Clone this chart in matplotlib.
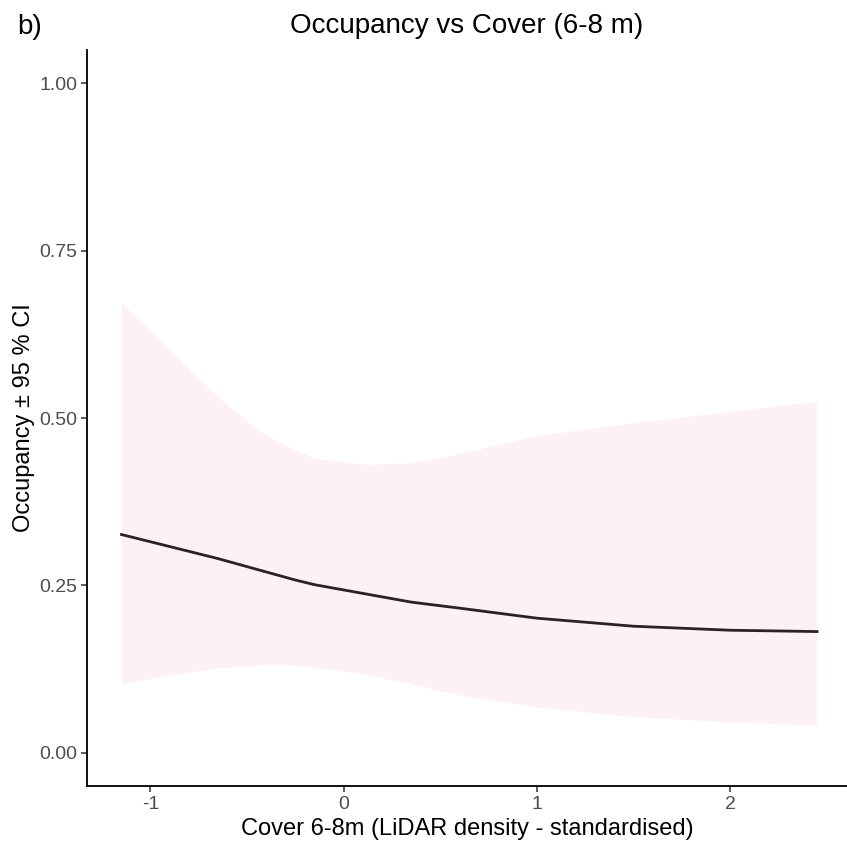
import numpy as np
import matplotlib.pyplot as plt

# values
cover = [-1.15, -0.90, -0.65, -0.50, -0.40, -0.25, -0.15, 0.10, 0.35, 0.60, 1.00, 1.50, 2.00, 2.45]
occ_mean = [0.326, 0.308, 0.290, 0.278, 0.270, 0.258, 0.251, 0.238, 0.225, 0.216, 0.201, 0.189, 0.183, 0.181]
occ_upper = [0.672, 0.601, 0.532, 0.495, 0.474, 0.452, 0.440, 0.431, 0.433, 0.447, 0.474, 0.493, 0.510, 0.525]
occ_lower = [0.103, 0.116, 0.127, 0.130, 0.132, 0.131, 0.128, 0.118, 0.103, 0.086, 0.068, 0.054, 0.046, 0.041]
yticks = [0.00, 0.25, 0.50, 0.75, 1.00]
xticks = [-1, 0, 1, 2]

plt.rcParams['font.family'] = ['Liberation Sans', 'DejaVu Sans']

fig = plt.figure(figsize=(8.47, 8.51), dpi=100)
ax = fig.add_axes([0.1024, 0.0762, 0.8976, 0.865])

ax.fill_between(cover, occ_lower, occ_upper, color='#FDF1F4', lw=0)
ax.plot(cover, occ_mean, color='#2B2222', lw=2.0)

ax.set_xlim(-1.33, 2.605)
ax.set_ylim(-0.05, 1.05)
ax.set_xticks(xticks)
ax.set_xticklabels([str(t) for t in xticks])
ax.set_yticks(yticks)
ax.set_yticklabels([f'{t:.2f}' for t in yticks])
ax.tick_params(labelsize=14, labelcolor='#4D4D4D', color='#333333', length=4, width=1.1, pad=3)

for s in ['top', 'right']:
    ax.spines[s].set_visible(False)
for s in ['left', 'bottom']:
    ax.spines[s].set_linewidth(1.3)
    ax.spines[s].set_color('black')

ax.set_xlabel('Cover 6-8m (LiDAR density - standardised)', fontsize=17, labelpad=4)
ax.set_ylabel('Occupancy ± 95 % CI', fontsize=17, labelpad=3)
ax.set_title('Occupancy vs Cover (6-8 m)', fontsize=20, pad=12)
fig.text(0.02, 0.968, 'b)', fontsize=20, va='center', ha='left')

fig.savefig('out.png', dpi=100)
